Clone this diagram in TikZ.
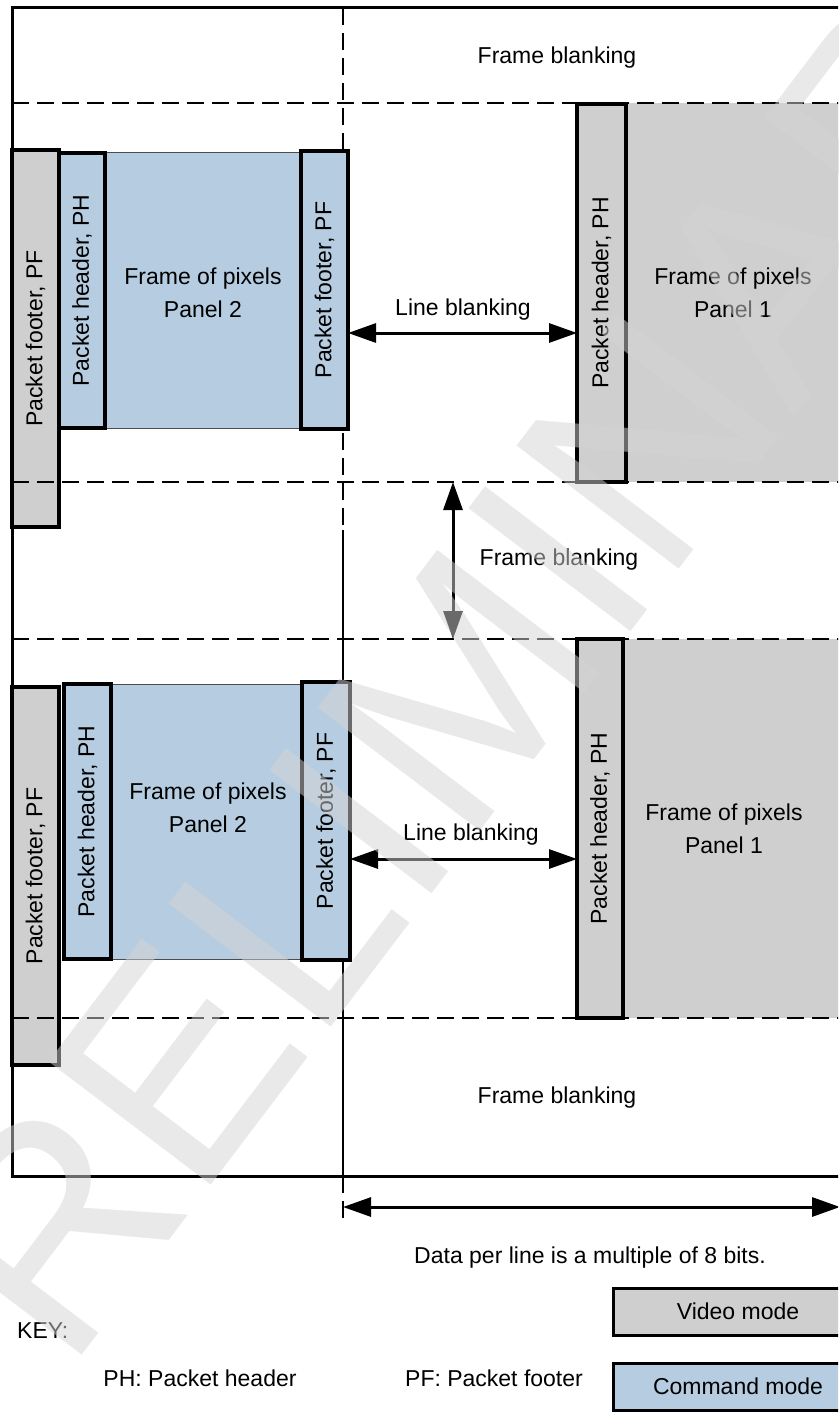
\documentclass[tikz,border=0pt]{standalone}
\usepackage{fontspec}
\setmainfont{Liberation Sans}
\usepackage{xcolor}
\usepackage{tikz}
\usetikzlibrary{arrows.meta}

\definecolor{vidgray}{RGB}{207,207,207}
\definecolor{cmdblue}{RGB}{182,205,225}
\definecolor{markgray}{RGB}{212,212,212}

\begin{document}
\begin{tikzpicture}[
x=1pt, y=-1pt,
lbl/.style={
font=\fontsize{23}{33}\selectfont,
align=center,
inner sep=0pt
},
strip/.style={
draw=black,
line width=3.5pt,
inner sep=0pt,
outer sep=0pt,
font=\fontsize{23}{27}\selectfont
},
vidstrip/.style={strip, fill=vidgray},
cmdstrip/.style={strip, fill=cmdblue},
pixcmd/.style={
draw=black!70,
line width=1pt,
fill=cmdblue,
inner sep=0pt,
outer sep=0pt
},
pixvid/.style={fill=vidgray, inner sep=0pt, outer sep=0pt},
gridline/.style={line width=2.5pt, dash pattern=on 17pt off 8pt},
dblarrow/.style={
{Triangle[length=28pt,width=19pt]}-{Triangle[length=28pt,width=19pt]},
line width=3pt
},
keybox/.style={
draw=black,
line width=3pt,
minimum width=250pt,
minimum height=47pt,
inner sep=0pt,
font=\fontsize{23}{27}\selectfont
}
]

\useasboundingbox (0,0) rectangle (838,1412);
\clip (0,0) rectangle (838,1412);

% outer frame and divider
\draw[line width=3pt] (12,8) rectangle (870,1176);
\draw[gridline] (343,8) -- (343,530);
\draw[line width=2.5pt] (343,530) -- (343,1176);
\draw[gridline] (343,1176) -- (343,1223);

% upper line
\node[vidstrip, minimum width=47, minimum height=377] (pfL1) at (35.5,338.5) {\rotatebox{90}{Packet footer, PF}};
\node[pixcmd, minimum width=196, minimum height=275] (fr2a) at (203,290.5) {};
\node[cmdstrip, minimum width=46, minimum height=275] (ph2a) at (82,290.5) {\rotatebox{90}{Packet header, PH}};
\node[cmdstrip, minimum width=47, minimum height=278] (pf2a) at (324.5,290) {\rotatebox{90}{Packet footer, PF}};
\node[pixvid, minimum width=250, minimum height=379] (fr1a) at (751,292.5) {};
\node[vidstrip, minimum width=49, minimum height=378] (ph1a) at (601.5,293) {\rotatebox{90}{Packet header, PH}};

% lower line
\node[vidstrip, minimum width=47, minimum height=378] (pfL2) at (35.5,876) {\rotatebox{90}{Packet footer, PF}};
\node[pixcmd, minimum width=191, minimum height=275] (fr2b) at (206.5,821.5) {};
\node[cmdstrip, minimum width=47, minimum height=275] (ph2b) at (87.5,821.5) {\rotatebox{90}{Packet header, PH}};
\node[cmdstrip, minimum width=48, minimum height=278] (pf2b) at (326,821) {\rotatebox{90}{Packet footer, PF}};
\node[pixvid, minimum width=250, minimum height=379] (fr1b) at (749,828.5) {};
\node[vidstrip, minimum width=46, minimum height=379] (ph1b) at (600,828.5) {\rotatebox{90}{Packet header, PH}};

\foreach \yy in {103,482,639,1018}
\draw[gridline] (12,\yy) -- (870,\yy);

% texts in the frames
\node[lbl] (pix2a) at (203,292.5) {Frame of pixels\\Panel 2};
\node[lbl] (pix1a) at (733,292.5) {Frame of pixels\\Panel 1};
\node[lbl] (pix2b) at (208,808) {Frame of pixels\\Panel 2};
\node[lbl] (pix1b) at (724,829) {Frame of pixels\\Panel 1};

\node[lbl] (fbtop) at (557,58) {Frame blanking};
\node[lbl] (fbmid) at (559,560) {Frame blanking};
\node[lbl] (fbbot) at (557,1098) {Frame blanking};

% blanking arrows
\coordinate (lbA) at (463,333);
\coordinate (lbB) at (471,859);
\draw[dblarrow] (pf2a.east |- lbA) -- (ph1a.west |- lbA);
\node[lbl] (lbAtxt) at (463,310) {Line blanking};
\draw[dblarrow] (pf2b.east |- lbB) -- (ph1b.west |- lbB);
\node[lbl] (lbBtxt) at (471,835) {Line blanking};

\coordinate (fbT) at (453,482);
\coordinate (fbB) at (453,639);
\draw[dblarrow] (fbT) -- (fbB);

% data per line
\coordinate (dpL) at (343,1207);
\coordinate (dpR) at (840,1207);
\draw[dblarrow] (dpL) -- (dpR);
\node[lbl] (dptxt) at (590,1258) {Data per line is a multiple of 8 bits.};

% key
\node[lbl, anchor=west] (key) at (17,1331) {KEY:};
\node[lbl] (keyph) at (200,1378) {PH: Packet header};
\node[lbl] (keypf) at (494,1378) {PF: Packet footer};
\node[keybox, fill=vidgray] (vidkey) at (738,1311.5) {Video mode};
\node[keybox, fill=cmdblue] (cmdkey) at (738,1386.5) {Command mode};

% watermark
\node[font=\fontsize{296}{300}\selectfont, text=markgray, opacity=0.5, inner sep=0pt, rotate=52.8] (stamp) at (472,673) {PRELIMINARY};

\end{tikzpicture}
\end{document}
